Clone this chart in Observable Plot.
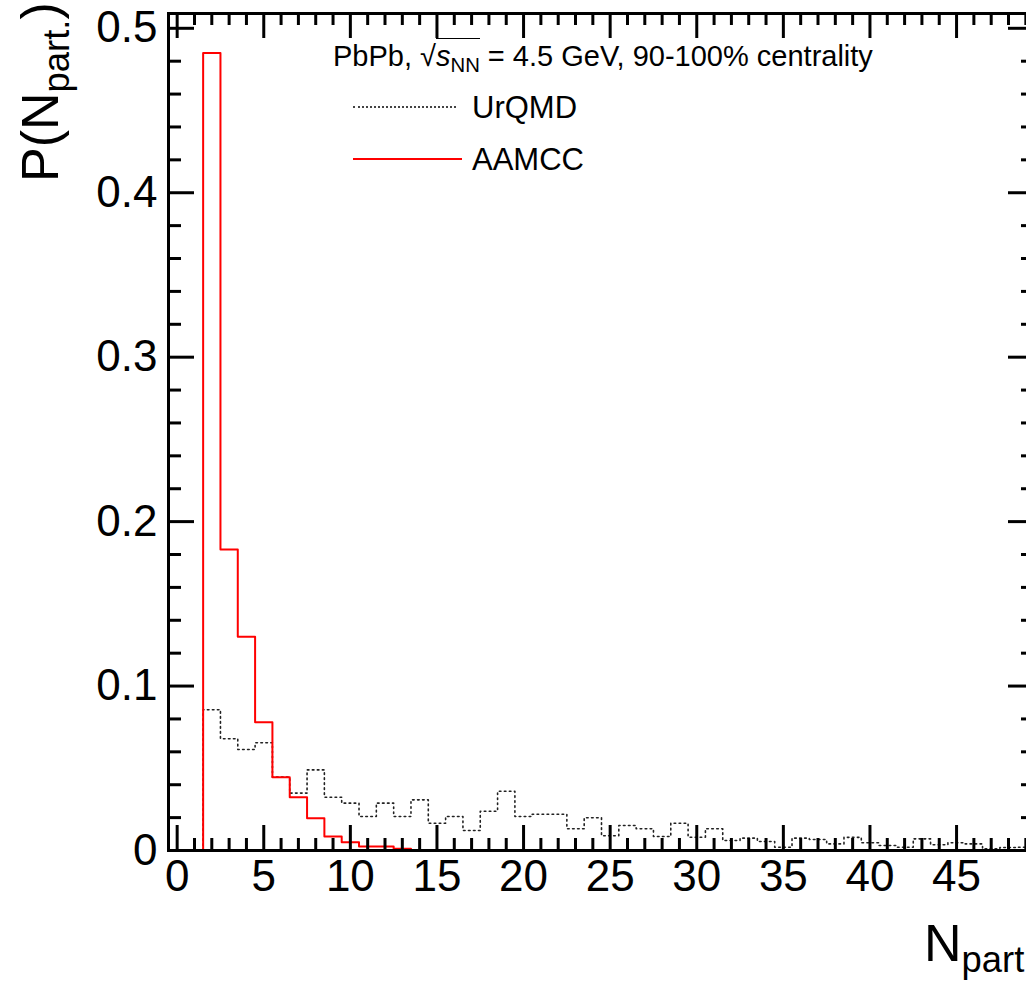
<!DOCTYPE html>
<html><head><meta charset="utf-8">
<script src="https://cdn.jsdelivr.net/npm/d3@7"></script>
<script src="https://cdn.jsdelivr.net/npm/@observablehq/plot@0.6"></script>
<style>
html,body{margin:0;padding:0;background:#fff;overflow:hidden;width:1026px;height:984px}
#wrap{position:relative;width:1026px;height:984px;overflow:hidden;font-family:"Liberation Sans",Arial,sans-serif;color:#000}
#wrap svg{position:absolute;left:0;top:0;max-width:none !important}
.ov{position:absolute;white-space:nowrap;line-height:1}
.rad{border-top:1.5px solid #000;padding-top:1px}
sub{font-size:70%;vertical-align:-0.3em;line-height:0}
.sample{position:absolute}
</style></head><body><div id="wrap"></div>
<script>
// Bin centres (N_part) and bin contents
const nPart = [2,3,4,5,6,7,8,9,10,11,12,13,14,15,16,17,18,19,20,21,22,23,24,25,26,27,28,29,30,31,32,33,34,35,36,37,38,39,40,41,42,43,44,45,46,47,48,49];
const urqmd = [0.0856,0.068,0.0614,0.0655,0.0446,0.0349,0.049,0.0324,0.0288,0.0207,0.0288,0.0207,0.0308,0.0166,0.0207,0.0122,0.0239,0.036,0.0207,0.022,0.022,0.0132,0.0199,0.009,0.0152,0.0132,0.0085,0.0166,0.0081,0.0132,0.0061,0.0075,0.0055,0.002,0.0075,0.0067,0.004,0.008,0.0047,0.003,0.002,0.0071,0.0035,0.0047,0.004,0.001,0.0018,0.002];
const aamcc = [0.485,0.183,0.13,0.078,0.0446,0.0324,0.0196,0.0085,0.005,0.0024,0.0024,0.001,0,0,0,0,0,0,0,0,0,0,0,0,0,0,0,0,0,0,0,0,0,0,0,0,0,0,0,0,0,0,0,0,0,0,0,0];
const xTickLabels = [0,5,10,15,20,25,30,35,40,45];
const yTickLabels = [0,0.1,0.2,0.3,0.4,0.5];
const xMinorTicks = d3.range(0,50).filter(v => v % 5 !== 0);
const yMinorTicks = d3.range(1,26).map(i => i*0.02).filter((v,i) => (i+1) % 5 !== 0);

function steps(centres, vals){
  const pts = [{x: centres[0]-0.5, y: 0}];
  centres.forEach((c,i) => pts.push({x: c-0.5, y: vals[i]}));
  pts.push({x: centres[centres.length-1]+0.5, y: vals[vals.length-1]});
  return pts;
}

const W = 1045, H = 984;
const L = 168, R = 1034, T = 13, B = 850;
const fw = R-L, fh = B-T;
const font = '"Liberation Sans", Arial, sans-serif';

const chart = Plot.plot({
  width: W, height: H,
  marginLeft: L, marginRight: W-R, marginTop: T, marginBottom: H-B,
  x: {domain: [-0.5, 49.5]},
  y: {domain: [0, 0.509]},
  style: {fontFamily: font, background: "transparent", color: "black", maxWidth: "none"},
  marks: [
    Plot.line(steps(nPart, urqmd), {x: "x", y: "y", curve: "step-after", stroke: "#222", strokeWidth: 1.6, strokeDasharray: "1.6,3.4"}),
    Plot.line(steps(nPart, aamcc), {x: "x", y: "y", curve: "step-after", stroke: "#ff0000", strokeWidth: 2}),
    Plot.frame({stroke: "black", strokeWidth: 3}),
    Plot.ruleX(xTickLabels, {x: d => d, insetTop: fh-25, stroke: "black", strokeWidth: 3}),
    Plot.ruleX(xMinorTicks, {x: d => d, insetTop: fh-12, stroke: "black", strokeWidth: 3}),
    Plot.ruleX(xTickLabels, {x: d => d, insetBottom: fh-25, stroke: "black", strokeWidth: 3}),
    Plot.ruleX(xMinorTicks, {x: d => d, insetBottom: fh-12, stroke: "black", strokeWidth: 3}),
    Plot.ruleY(yTickLabels, {y: d => d, insetRight: fw-26, stroke: "black", strokeWidth: 3}),
    Plot.ruleY(yMinorTicks, {y: d => d, insetRight: fw-13, stroke: "black", strokeWidth: 3}),
    Plot.ruleY(yTickLabels, {y: d => d, insetLeft: fw-26, stroke: "black", strokeWidth: 3}),
    Plot.ruleY(yMinorTicks, {y: d => d, insetLeft: fw-13, stroke: "black", strokeWidth: 3}),
    Plot.axisX({ticks: xTickLabels, tickSize: 0, tickPadding: 9, fontSize: 44, label: null, anchor: "bottom", tickFormat: d => String(d)}),
    Plot.axisY({ticks: yTickLabels, tickSize: 0, tickPadding: 11, fontSize: 44, label: null, anchor: "left", tickFormat: d => d === 0 ? "0" : d.toFixed(1)})
  ]
});
const wrap = document.getElementById("wrap");
wrap.appendChild(chart);

function add(html, css){ const d = document.createElement("div"); d.className = "ov"; d.innerHTML = html; Object.assign(d.style, css); wrap.appendChild(d); return d; }

// legend header
add('PbPb, √<span class="rad"><i>s</i><sub>NN</sub></span> = 4.5 GeV, 90-100% centrality', {left: "333px", top: "42px", fontSize: "29px"});
// legend entries
const s1 = document.createElement("div"); s1.className = "sample";
Object.assign(s1.style, {left: "353px", top: "106px", width: "103px", borderTop: "2px dotted #444"}); wrap.appendChild(s1);
const s2 = document.createElement("div"); s2.className = "sample";
Object.assign(s2.style, {left: "353px", top: "158px", width: "109px", borderTop: "2px solid #ff0000"}); wrap.appendChild(s2);
add('UrQMD', {left: "472px", top: "92px", fontSize: "31px"});
add('AAMCC', {left: "472px", top: "144px", fontSize: "31px"});

// axis titles
add('P(N<sub>part.</sub>)', {left: "14px", top: "182px", fontSize: "52px", transformOrigin: "0 0", transform: "rotate(-90deg)"});
add('N<sub>part</sub>', {left: "924px", top: "917px", fontSize: "52px"});
</script>
</body></html>
